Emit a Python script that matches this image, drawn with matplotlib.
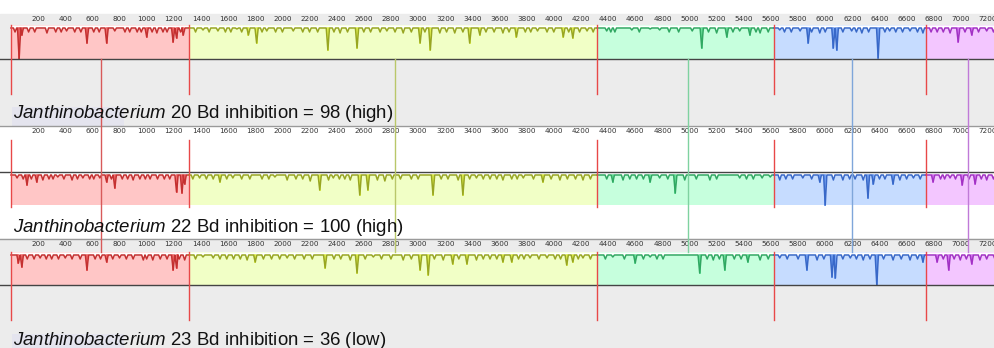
import numpy as np
import matplotlib
matplotlib.use("Agg")
from matplotlib import pyplot as plt
from matplotlib.patches import Rectangle

plt.rcParams['font.family'] = 'Liberation Sans'
plt.rcParams['mathtext.fontset'] = 'custom'
plt.rcParams['mathtext.rm'] = 'Liberation Sans'
plt.rcParams['mathtext.it'] = 'Liberation Sans:italic'

# collinear blocks (bp), same order in all three genomes
block_edges = [0, 1310, 4320, 5620, 6740, 7320]
block_fill = ['#ffc6c6', '#f1ffc6', '#c6ffdd', '#c6dcff', '#f3c6ff']
block_line = ['#c43030', '#98a622', '#30a862', '#3868c8', '#a232c4']
block_spike = ['#ee5050', '#dcee30', '#50dc8a', '#5a90f0', '#d060f0']
link_pos = [660, 2830, 4990, 6200, 7050]
link_color = ['#d85a5a', '#b9c76a', '#7fd2a0', '#7fa6da', '#c07ad8']
ruler_ticks = list(range(200, 7400, 200))

strains = ['20', '22', '23']
inhibition = ['98 (high)', '100 (high)', '36 (low)']

# dips of the similarity profile: (position bp, depth px)
dips_1 = [(60, 34), (80, 10), (265, 8), (410, 6), (560, 18), (705, 18), (765, 6), (875, 7),
          (1000, 12), (1075, 8), (1195, 17), (1220, 13), (1270, 10),
          (1415, 5), (1525, 6), (1665, 4), (1750, 10), (1810, 18), (1885, 6), (2080, 6),
          (2335, 25), (2425, 8), (2550, 23), (2770, 6), (2890, 8), (3015, 18), (3090, 25),
          (3160, 8), (3270, 8), (3380, 18), (3455, 10), (3625, 8), (3725, 12), (3880, 6),
          (4070, 12), (4140, 13), (4245, 6),
          (4390, 6), (4450, 7), (4575, 5), (4710, 4), (4780, 5), (5020, 6), (5090, 23),
          (5200, 8), (5275, 12), (5370, 6), (5445, 10), (5520, 8),
          (5665, 5), (5815, 6), (5875, 18), (5960, 8), (6060, 23), (6085, 25), (6195, 6),
          (6270, 8), (6390, 33), (6475, 6), (6625, 6), (6720, 8),
          (6825, 7), (6920, 8), (6980, 17), (7080, 10), (7190, 6)]
dips_2 = [(45, 6), (118, 13), (190, 10), (235, 8), (345, 5), (450, 8), (530, 6), (655, 6),
          (705, 10), (765, 16), (900, 8), (1025, 7), (1220, 20), (1260, 21), (1280, 12),
          (1390, 6), (1540, 10), (1635, 6), (1945, 5), (2035, 8), (2205, 9), (2275, 18),
          (2340, 8), (2375, 6), (2500, 8), (2570, 23), (2630, 18), (2700, 8), (2755, 9),
          (3110, 23), (3295, 8), (3330, 23), (3430, 6), (3625, 8), (3775, 6), (3920, 10),
          (4045, 8), (4215, 8),
          (4435, 10), (4510, 8), (4710, 10), (4780, 6), (4895, 21), (4965, 8), (5150, 8),
          (5370, 6), (5535, 6), (5595, 5),
          (5665, 8), (5835, 6), (5960, 10), (6000, 33), (6060, 8), (6130, 8), (6280, 8),
          (6315, 26), (6355, 12), (6500, 12), (6550, 8), (6650, 6),
          (6795, 10), (6920, 6), (7010, 13), (7105, 12), (7190, 8)]
dips_3 = [(55, 11), (80, 15), (215, 6), (400, 6), (560, 18), (705, 10), (800, 6), (975, 8),
          (1045, 8), (1195, 18), (1220, 16), (1280, 8),
          (1415, 5), (1490, 6), (1740, 8), (1800, 10), (2035, 6), (2315, 16), (2500, 8),
          (2550, 21), (2670, 5), (2890, 8), (3015, 18), (3075, 23), (3185, 8), (3255, 12),
          (3360, 12), (3430, 8), (3625, 10), (3690, 10), (3825, 6), (3950, 6), (4095, 13),
          (4140, 10), (4215, 6),
          (4435, 5), (4600, 11), (4710, 5), (4805, 7), (5075, 21), (5175, 8), (5260, 18),
          (5430, 10), (5520, 8),
          (5665, 6), (5865, 18), (5940, 8), (6050, 25), (6075, 26), (6185, 6), (6280, 8),
          (6380, 33), (6500, 8), (6625, 8), (6720, 10),
          (6825, 10), (6910, 18), (6995, 8), (7080, 12), (7140, 8)]

# shallow notches between the larger dips (position bp)
minor_1 = [30, 130, 175, 330, 370, 470, 515, 610, 650, 840, 930, 960, 1040, 1120, 1150, 1250,
           1360, 1460, 1580, 1620, 1700, 1850, 1950, 2000, 2150, 2200, 2260, 2380, 2480, 2600,
           2650, 2720, 2830, 2950, 3050, 3210, 3330, 3500, 3560, 3670, 3790, 3830, 3950, 4000,
           4110, 4190, 4290, 4420, 4630, 4850, 4920, 5140, 5320, 5490, 5580, 5700, 5750, 5900,
           6000, 6130, 6230, 6320, 6440, 6520, 6570, 6680, 6780, 6870, 7030, 7130, 7240]
minor_2 = [90, 150, 280, 310, 390, 490, 580, 610, 740, 820, 860, 950, 990, 1080, 1130, 1170,
           1340, 1440, 1490, 1590, 1700, 1760, 1850, 1900, 2100, 2150, 2420, 2460, 2810, 2870,
           2950, 3000, 3170, 3220, 3380, 3480, 3530, 3580, 3690, 3730, 3850, 3980, 4100, 4160,
           4270, 4390, 4560, 4610, 4660, 4840, 5050, 5200, 5420, 5470, 5710, 5760, 5900, 6180,
           6220, 6400, 6440, 6600, 6700, 6850, 6880, 6960, 7060, 7150, 7240]
minor_3 = [120, 170, 260, 300, 350, 450, 510, 620, 660, 750, 850, 900, 1000, 1100, 1150, 1240,
           1360, 1540, 1590, 1640, 1690, 1860, 1920, 1980, 2090, 2160, 2220, 2380, 2430, 2610,
           2730, 2800, 2950, 3120, 3300, 3480, 3530, 3580, 3740, 3780, 3890, 4010, 4050, 4180,
           4270, 4380, 4520, 4660, 4760, 5130, 5220, 5330, 5380, 5580, 5720, 5800, 5990, 6130,
           6230, 6330, 6430, 6560, 6680, 6870, 6950, 7040, 7190, 7250]
minor_depth = 7

# track layout in pixel rows
tracks = [
    dict(dips=dips_1, minor=minor_1, ruler=14, top=25, bot=59, mid=59, bar=(25, 94), text=118, bg=(14, 126, '#ececec')),
    dict(dips=dips_2, minor=minor_2, ruler=126, top=172, bot=205, mid=172, bar=(140, 207), text=232, bg=(126, 239, 'white')),
    dict(dips=dips_3, minor=minor_3, ruler=239, top=252, bot=285, mid=285, bar=(252, 320), text=345, bg=(239, 348, '#ececec')),
]

fig = plt.figure(figsize=(9.95, 3.48), dpi=100)
ax = fig.add_axes([0, 0, 1, 1])
ax.set_xlim(-81, 7251)
ax.set_ylim(348, 0)
ax.axis('off')

w = 12
for i, t in enumerate(tracks):
    y0, y1, c = t['bg']
    ax.add_patch(Rectangle((-81, y0), 7400, y1 - y0, color=c, zorder=0))
    if i > 0:
        ax.plot([-81, 7320], [t['ruler'], t['ruler']], color='#9a9a9a', lw=1, zorder=1)
    for g in ruler_ticks:
        ax.text(g, t['ruler'] + 5, str(g), fontsize=5.2, color='#333333', ha='center', va='center',
                family='DejaVu Sans', zorder=2)

    top, bot = t['top'], t['bot']
    allp = sorted(t['dips'] + [(p, minor_depth) for p in t['minor']])
    for k, (s, e) in enumerate(zip(block_edges[:-1], block_edges[1:])):
        ax.add_patch(Rectangle((s, top), e - s, bot - top, color=block_fill[k], zorder=2, lw=0))
        xs = [s]
        ys = [top + 3]
        for p, d in allp:
            if s + w < p < e - w:
                xs += [p - w, p, p + w]
                ys += [top + 3, top + d, top + 3]
        xs.append(e)
        ys.append(top + 3)
        ax.fill_between(xs, top, ys, color='white', lw=0, zorder=3)
        # the deeper dips keep a brighter core
        for p, d in t['dips']:
            if s < p < e and d > 9:
                ax.plot([p, p], [top + 3, top + d], color=block_spike[k], lw=1.2, zorder=3.5)
        ax.plot(xs, ys, color=block_line[k], lw=1.1, zorder=4)

    ax.plot([-81, 7320], [t['mid'], t['mid']], color='#444444', lw=1, zorder=5)
    for e in block_edges[:-1]:
        ax.plot([e, e], t['bar'], color='#e84848', lw=1, zorder=6)

    if i != 1:
        ax.add_patch(Rectangle((5, t['text'] - 11), 830, 19, color='#e4e4ee', zorder=1, lw=0))
    ax.text(15, t['text'], r'$\it{Janthinobacterium}$' + ' %s Bd inhibition = %s' % (strains[i], inhibition[i]),
            fontsize=13.4, color='#111111', ha='left', va='baseline', zorder=7)

# links between the matching blocks
for p, c in zip(link_pos, link_color):
    ax.plot([p, p], [59, 252], color=c, lw=1, zorder=6)

fig.savefig('out.png', dpi=100)
